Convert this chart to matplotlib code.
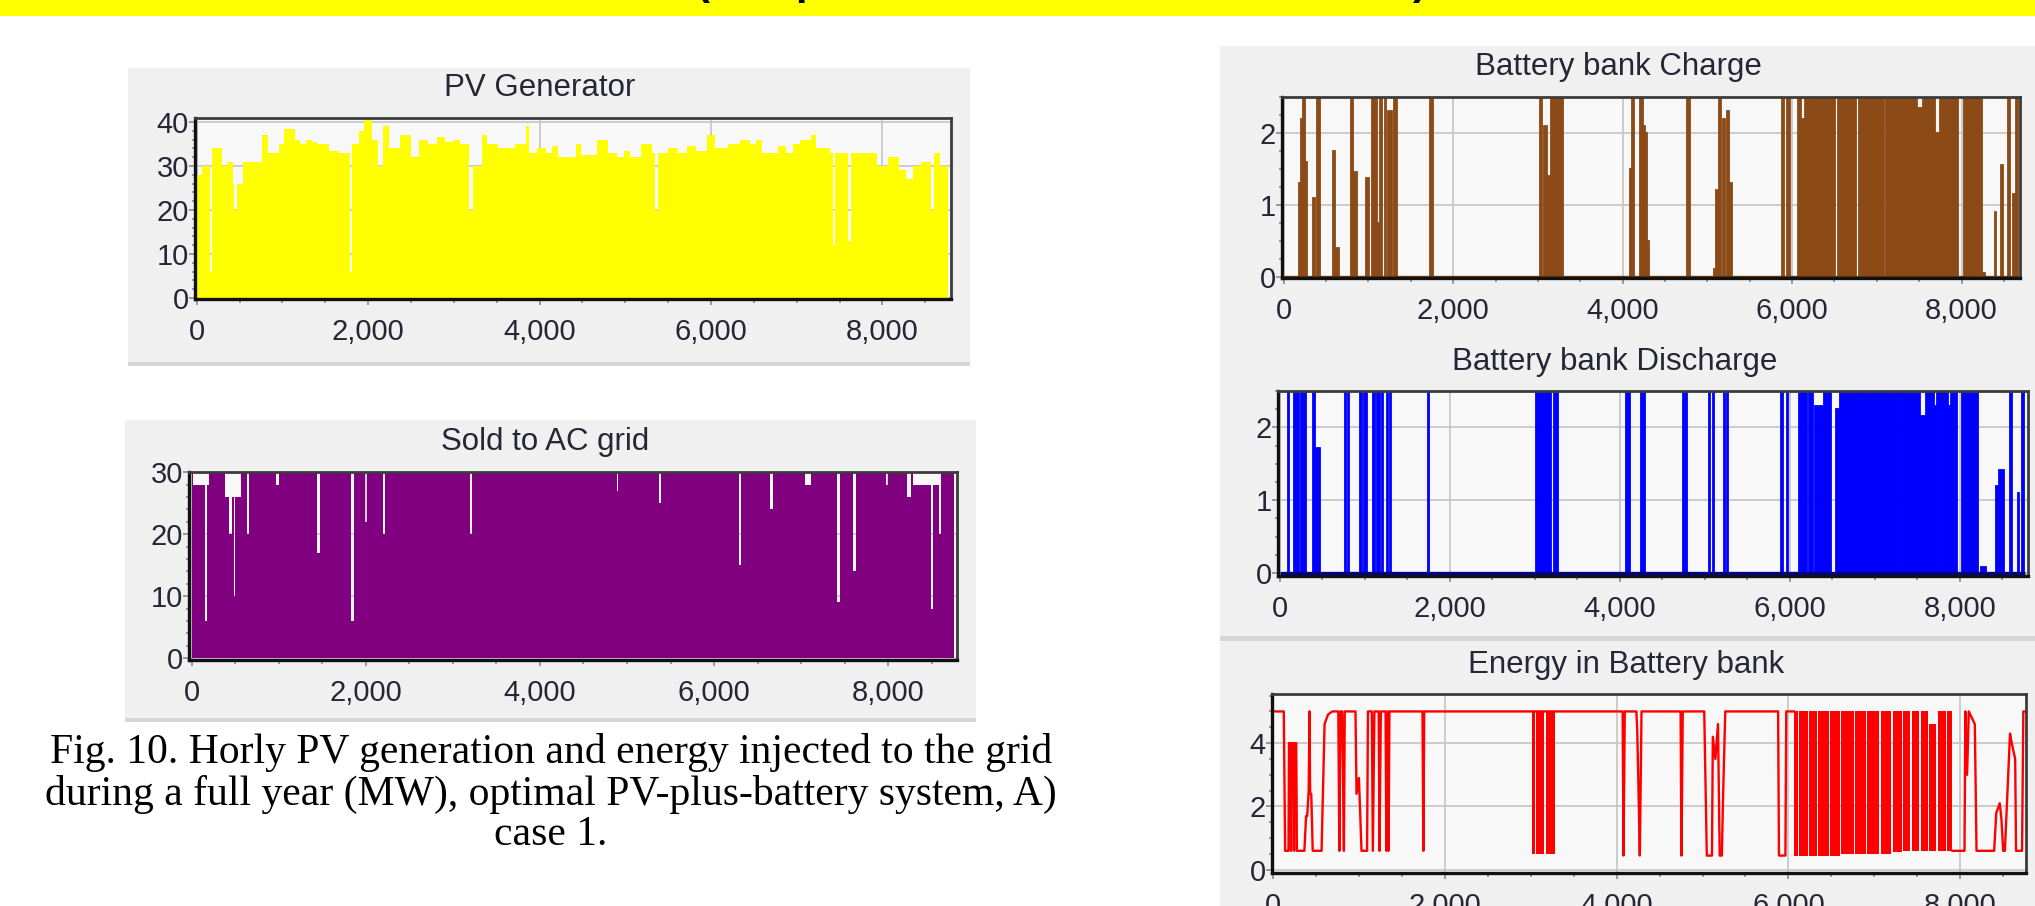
import numpy as np
import matplotlib
matplotlib.use('Agg')
import matplotlib.pyplot as plt
from matplotlib import font_manager
from matplotlib.patches import Rectangle
from matplotlib.ticker import MultipleLocator, FuncFormatter

# ---- data (hour of year, MW / MWh) ----
# PV generator: upper envelope of the hourly output, step starts
pv_hour = [0, 64, 150, 180, 290, 350, 420, 440, 470, 540,
           620, 760, 830, 960, 1020, 1150, 1210, 1280, 1340, 1400,
           1540, 1660, 1790, 1815, 1890, 1950, 2050, 2110, 2170, 2240,
           2370, 2500, 2590, 2700, 2800, 2900, 2990, 3070, 3180, 3220,
           3330, 3390, 3520, 3710, 3840, 3880, 3970, 4080, 4150, 4220,
           4420, 4480, 4670, 4800, 4900, 4980, 5060, 5180, 5310, 5350,
           5380, 5500, 5620, 5720, 5820, 5950, 6050, 6200, 6340, 6450,
           6520, 6590, 6780, 6880, 6960, 7040, 7170, 7230, 7390, 7420,
           7450, 7600, 7630, 7940, 8060, 8190, 8280, 8360, 8450, 8570,
           8600, 8670, 8760]
pv_peak = [28, 30, 6, 34, 30, 31, 26, 20, 26, 31,
           31, 37, 33, 35, 38.5, 36, 35, 36, 35.5, 35,
           33.5, 33, 6, 35, 38, 40.5, 36, 30, 39, 34,
           37, 32, 36, 35, 36.5, 35.5, 36, 35, 20, 30,
           37, 35, 34, 35, 39, 33, 34, 33, 34.5, 32,
           35, 32.5, 36, 33, 32, 33.5, 32, 35, 33, 20,
           33, 34, 33, 34.5, 33.5, 37, 34, 35, 36, 35,
           36, 33, 34.5, 33, 35, 36, 37, 34, 33, 12,
           33, 13, 33, 30, 32, 29, 27, 30, 31, 20,
           33, 30, 30]

# Sold to AC grid: envelope, capped at 30 MW
sold_hour = [0, 20, 110, 150, 175, 200, 380, 430, 460, 485,
             500, 570, 640, 660, 970, 1000, 1440, 1470, 1835, 1860,
             1995, 2015, 2200, 2225, 3195, 3220, 4880, 4900, 5365, 5390,
             6285, 6310, 6640, 6680, 7050, 7110, 7410, 7450, 7595, 7625,
             7970, 8000, 8220, 8260, 8290, 8450, 8490, 8510, 8585, 8610,
             8760]
sold_top = [30, 28, 28, 6, 28, 30, 26, 20, 26, 10,
            26, 30, 20, 30, 28, 30, 17, 30, 6, 30,
            22, 30, 20, 30, 20, 30, 27, 30, 25, 30,
            15, 30, 24, 30, 28, 30, 9, 30, 14, 30,
            28, 30, 26, 30, 28, 28, 8, 28, 20, 30,
            30]

# Battery charge: (start hour, duration, MW)
chg_start = [180, 205, 225, 255, 345, 395, 580, 610, 800, 830,
             975, 1045, 1080, 1110, 1140, 1190, 1230, 1305, 1730,
             3020, 3070, 3125, 3160, 3215,
             4085, 4115, 4210, 4240, 4270, 4295, 4765,
             5075, 5105, 5140, 5190, 5230, 5260, 5880, 5945,
             6070, 6120, 6150, 6225, 6280, 6365, 6435,
             6545, 6630, 6785, 6880, 6965, 7110, 7210, 7300, 7370, 7440,
             7490, 7550, 7630, 7700, 7750, 7830, 7905, 8025, 8120,
             8235, 8390, 8470, 8545, 8610, 8645]
chg_dur = [20, 15, 25, 15, 20, 35, 20, 45, 20, 35,
           35, 25, 20, 15, 20, 20, 50, 35, 35,
           30, 35, 25, 45, 85,
           20, 25, 25, 25, 20, 20, 25,
           20, 20, 25, 20, 20, 35, 25, 25,
           40, 25, 60, 40, 70, 55, 75,
           75, 130, 85, 70, 125, 90, 75, 60, 60, 40,
           40, 70, 60, 35, 70, 65, 55, 85, 120,
           40, 20, 25, 25, 20, 25]
chg_mw = [1.3, 2.2, 2.5, 1.6, 1.1, 2.5, 1.75, 0.4, 2.5, 1.45,
          1.37, 2.5, 2.5, 0.75, 2.5, 2.5, 2.3, 2.5, 2.5,
          2.5, 2.1, 1.4, 2.5, 2.5,
          1.5, 2.5, 2.5, 2.1, 2.0, 0.5, 2.5,
          0.1, 1.2, 2.5, 2.2, 2.3, 1.3, 2.5, 2.5,
          2.5, 2.2, 2.5, 2.5, 2.5, 2.5, 2.5,
          2.5, 2.5, 2.5, 2.5, 2.5, 2.5, 2.5, 2.5, 2.5, 2.5,
          2.35, 2.5, 2.5, 2.0, 2.5, 2.5, 2.5, 2.5, 2.5,
          0.05, 0.9, 1.55, 2.5, 1.15, 2.5]

# Battery discharge: (start hour, duration, MW)
dis_start = [100, 170, 205, 250, 285, 395, 420, 765, 800, 950,
             995, 1100, 1140, 1165, 1200, 1262, 1293, 1740,
             3010, 3105, 3225, 3255, 4078, 4103, 4245, 4276, 4740, 4772,
             5050, 5095, 5225, 5255, 5900, 5960,
             6105, 6135, 6228, 6290, 6400,
             6540, 6585, 6810, 6985, 7140, 7345, 7530,
             7595, 7700, 7725, 7860, 7890, 8025,
             8245, 8425, 8460, 8590, 8685, 8735]
dis_dur = [15, 20, 25, 20, 20, 20, 50, 20, 15, 20,
           30, 20, 15, 15, 15, 15, 15, 20,
           85, 80, 15, 15, 15, 15, 15, 15, 15, 15,
           15, 15, 15, 15, 15, 15,
           15, 70, 40, 95, 80,
           40, 215, 165, 145, 195, 180, 60,
           100, 20, 130, 25, 75, 190,
           60, 25, 60, 20, 15, 15]
dis_mw = [2.5, 2.5, 2.5, 2.5, 2.5, 2.5, 1.72, 2.5, 2.5, 2.5,
          2.5, 2.5, 2.5, 2.5, 2.5, 2.5, 2.5, 2.5,
          2.5, 2.5, 2.5, 2.5, 2.5, 2.5, 2.5, 2.5, 2.5, 2.5,
          2.5, 2.5, 2.5, 2.5, 2.5, 2.5,
          2.5, 2.5, 2.5, 2.3, 2.5,
          2.25, 2.5, 2.5, 2.5, 2.5, 2.5, 2.15,
          2.5, 2.3, 2.5, 2.3, 2.5, 2.5,
          0.08, 1.2, 1.42, 2.5, 1.1, 2.5]

# Energy in battery bank (MWh): sparse part as a trace, nan = dense stretch
soc_hour = [0, 125, 141, 180, 186, 205, 210, 218, 240, 245, 250, 270, 278,
            365, 385, 398, 415, 425, 432, 445, 462, 565, 600, 640, 690,
            760, 772, 785, 805, 812, 825, 835, 960, 972, 1000, 1030, 1095,
            1105, 1150, 1162, 1180, 1230, 1240, 1255, 1310, 1320, 1335,
            1345, 1355, 1740, 1750, 1760, 3010, 3285, 4070, 4080, 4095,
            4230, 4240, 4255, 4270, 4290, 4745, 4755, 4770, 5020, 5050,
            5110, 5120, 5150, 5180, 5200, 5225, 5240, 5265, 5880, 5890,
            5965, 5975, 6065, 6066, 7910, 8050, 8060, 8080, 8100, 8170,
            8190, 8395, 8420, 8460, 8480, 8500, 8520, 8580, 8600, 8640,
            8650, 8720, 8735, 8760]
soc_val = [5.0, 5.0, 0.6, 0.6, 4.0, 4.0, 0.6, 4.0, 4.0, 0.6, 4.0, 4.0, 0.6,
           0.6, 1.7, 1.7, 2.5, 5.0, 2.4, 2.4, 0.6, 0.6, 4.6, 4.9, 5.0,
           5.0, 0.6, 5.0, 5.0, 3.6, 0.6, 5.0, 5.0, 2.4, 2.9, 0.6, 0.6,
           5.0, 5.0, 0.6, 5.0, 5.0, 0.6, 5.0, 5.0, 0.6, 5.0,
           0.6, 5.0, 5.0, 0.6, 5.0, 5.0, 5.0, 5.0, 0.45, 5.0,
           5.0, 4.4, 2.5, 0.45, 5.0, 5.0, 0.45, 5.0, 5.0, 0.45,
           0.45, 4.2, 3.5, 4.6, 0.45, 0.45, 2.4, 5.0, 5.0, 0.45,
           0.45, 5.0, 5.0, np.nan, 0.6, 0.6, 5.0, 3.0, 5.0, 4.6,
           0.6, 0.6, 1.8, 2.1, 1.6, 0.6, 0.6, 4.3, 4.0, 3.5,
           0.6, 0.6, 5.0, 5.0]
# stretches where the level swings every day between min and max
band_start = [3010, 3065, 3175, 6065, 6125, 6245, 6345, 6490, 6615, 6775,
              6915, 7075, 7215, 7335, 7440, 7545, 7640, 7740, 7850]
band_end = [3050, 3160, 3280, 6110, 6230, 6330, 6470, 6600, 6760, 6900,
            7060, 7200, 7320, 7420, 7520, 7620, 7720, 7830, 7910]
band_low = [0.5, 0.5, 0.5, 0.45, 0.45, 0.45, 0.45, 0.45, 0.5, 0.5,
            0.5, 0.5, 0.55, 0.6, 0.6, 0.6, 0.6, 0.6, 0.6]
band_high = [5.0, 5.0, 5.0, 5.0, 5.0, 5.0, 5.0, 5.0, 5.0, 5.0,
             5.0, 5.0, 5.0, 5.0, 5.0, 5.0, 4.6, 5.0, 5.0]

x_ticks = [0, 2000, 4000, 6000, 8000]

caption = ["Fig. 10. Horly PV generation and energy injected to the grid",
           "during a full year (MW), optimal PV-plus-battery system, A)",
           "case 1."]

# ---- fonts ----
names = {f.name for f in font_manager.fontManager.ttflist}
tick_font = 'Liberation Sans Narrow' if 'Liberation Sans Narrow' in names else 'Liberation Sans'
tick_size = 23 if tick_font == 'Liberation Sans Narrow' else 21
label_color = '#262636'

W, H = 2035, 906
fig = plt.figure(figsize=(W / 100, H / 100), dpi=100)
fig.patch.set_facecolor('white')


def rect(x0, y0, x1, y1, color):
    fig.add_artist(Rectangle((x0 / W, 1 - y1 / H), (x1 - x0) / W, (y1 - y0) / H,
                             transform=fig.transFigure, facecolor=color,
                             edgecolor='none', zorder=-5))


def title(x, y, s):
    fig.text(x / W, 1 - y / H, s, ha='center', va='center', fontsize=22.5,
             family='Liberation Sans', color=label_color)


def make_axes(box, xlim, ylim, ymajor, yminor):
    x0, y0, x1, y1 = box
    ax = fig.add_axes([x0 / W, 1 - y1 / H, (x1 - x0) / W, (y1 - y0) / H])
    ax.set_facecolor('#f8f8f8')
    ax.set_xlim(*xlim)
    ax.set_ylim(*ylim)
    ax.set_xticks(x_ticks)
    ax.xaxis.set_minor_locator(MultipleLocator(500))
    ax.yaxis.set_major_locator(MultipleLocator(ymajor))
    ax.yaxis.set_minor_locator(MultipleLocator(yminor))
    ax.xaxis.set_major_formatter(FuncFormatter(lambda v, p: f'{int(v):,}'))
    ax.yaxis.set_major_formatter(FuncFormatter(lambda v, p: f'{v:g}'))
    ax.set_axisbelow(True)
    ax.grid(True, which='major', color='#c4c4c4', lw=1.2)
    ax.tick_params(which='both', direction='out', color='#8a8a8a', width=1.2,
                   labelcolor=label_color, labelsize=tick_size)
    ax.tick_params(axis='x', which='major', length=4, pad=10)
    ax.tick_params(axis='x', which='minor', length=3)
    ax.tick_params(axis='y', which='major', length=4, pad=0.5)
    ax.tick_params(axis='y', which='minor', length=2.5)
    for lab in ax.get_xticklabels() + ax.get_yticklabels():
        lab.set_family(tick_font)
    for side in ('top', 'right'):
        ax.spines[side].set_color('#3c3c3c')
        ax.spines[side].set_linewidth(2)
    for side in ('left', 'bottom'):
        ax.spines[side].set_color('#111111')
        ax.spines[side].set_linewidth(2.4)
    return ax


# panel backgrounds
rect(0, 0, W, 16, '#ffff00')
rect(128, 68, 970, 362, '#f0f0f0')
rect(128, 362, 970, 366, '#d6d6d6')
rect(125, 420, 976, 718, '#f0f0f0')
rect(125, 718, 976, 722, '#d6d6d6')
rect(1220, 46, W, 636, '#f0f0f0')
rect(1220, 636, W, 641, '#d6d6d6')
rect(1220, 641, W, H, '#f0f0f0')

# clipped heading above the figure (only the descenders show)
for gx, g in [(703, '('), (808, 'p'), (1420, ')')]:
    fig.text(gx / W, 1 + 6 / H, g, ha='center', va='baseline', fontsize=30,
             fontweight='bold', family='Liberation Sans', color='black')

# PV generator
ax = make_axes((195, 118, 951, 299), (-20, 8800), (-0.25, 40.9), 10, 2)
ax.fill_between(pv_hour, pv_peak, step='post', color='#ffff00', lw=0)
title(540, 88, 'PV Generator')

# Sold to AC grid
ax = make_axes((189, 472, 957, 660), (-30, 8790), (-0.3, 30.05), 10, 2)
ax.fill_between(sold_hour, sold_top, step='post', color='#800080', lw=0)
title(545, 442, 'Sold to AC grid')

# Battery bank charge
ax = make_axes((1282, 97, 2020, 278), (-20, 8690), (-0.02, 2.5), 1, 0.25)
ax.bar(chg_start, chg_mw, width=chg_dur, align='edge', color='#8b4a16',
       edgecolor='#8b4a16', lw=1.3)
ax.hlines(0, pv_hour[0], pv_hour[-1], color='#6e3a10', lw=2.4)
title(1618, 67, 'Battery bank Charge')

# Battery bank discharge
ax = make_axes((1278, 391, 2028, 576), (-20, 8800), (-0.04, 2.5), 1, 0.25)
ax.bar(dis_start, dis_mw, width=dis_dur, align='edge', color='#0000ff',
       edgecolor='#0000ff', lw=1.3)
ax.hlines(0, pv_hour[0], pv_hour[-1], color='#00008a', lw=2.4)
title(1615, 362, 'Battery bank Discharge')

# Energy in battery bank
ax = make_axes((1272, 694, 2026, 873), (-12, 8766), (-0.1, 5.55), 2, 0.5)
ax.plot(soc_hour, soc_val, color='#ff0000', lw=1.7)
for s, e, lo, hi in zip(band_start, band_end, band_low, band_high):
    ax.fill_between([s, e], lo, hi, color='#ff0000', lw=0)
title(1626, 665, 'Energy in Battery bank')

# caption
for i, line in enumerate(caption):
    fig.text(551 / W, 1 - (753 + 41 * i) / H, line, ha='center', va='center',
             fontsize=30, family='Liberation Serif', color='black')

fig.savefig('out.png', dpi=100)
